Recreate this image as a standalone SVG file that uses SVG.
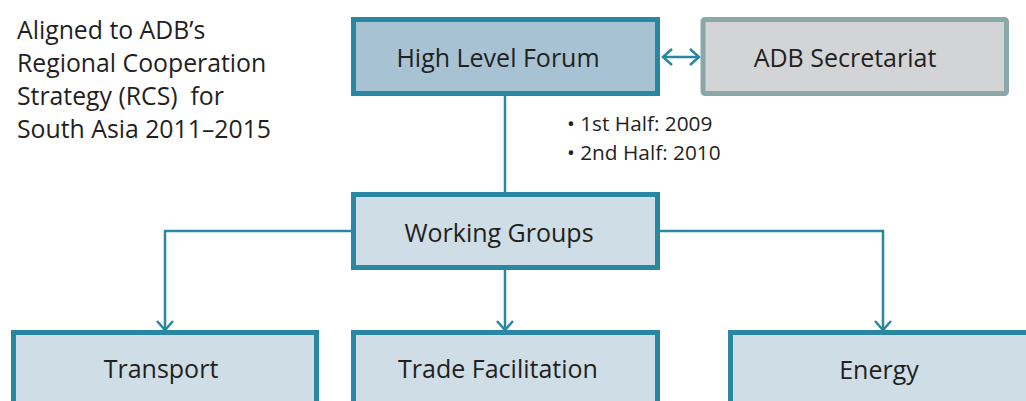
<svg xmlns="http://www.w3.org/2000/svg" width="1026" height="401" viewBox="0 0 1026 401">
<defs>
<style>
.box{stroke:#2a87a1;stroke-width:5;}
.dark{fill:#a7c3d3;}
.light{fill:#cedde6;}
.sec{fill:#d3d4d6;stroke:#8ba8a9;stroke-width:5;}
.lbl{font-family:"Open Sans","Noto Sans",sans-serif;font-size:25px;fill:#231f20;text-anchor:middle;}
.side{font-family:"Open Sans","Noto Sans",sans-serif;font-size:24.8px;fill:#231f20;white-space:pre;}
.note{font-family:"Open Sans","Noto Sans",sans-serif;font-size:20.8px;fill:#231f20;}
.conn{fill:none;stroke:#2a87a1;stroke-width:2.5;}
</style>
<marker id="arr" viewBox="0 0 20 20" refX="18" refY="10" markerWidth="20" markerHeight="20" markerUnits="userSpaceOnUse" orient="auto-start-reverse">
<path d="M9,2 L18,10 L9,18" fill="none" stroke="#2a87a1" stroke-width="2.5"/>
</marker>
</defs>
<rect width="1026" height="401" fill="#ffffff"/>
<g id="note-rcs">
<text class="side" x="17" y="39">Aligned to ADB’s</text>
<text class="side" x="17" y="72">Regional Cooperation</text>
<text class="side" x="17" y="105" xml:space="preserve">Strategy (RCS)  for</text>
<text class="side" x="17" y="138">South Asia 2011–2015</text>
</g>
<g id="connectors">
<line class="conn" x1="663" y1="57" x2="699" y2="57" marker-start="url(#arr)" marker-end="url(#arr)"/>
<line class="conn" x1="505" y1="96" x2="505" y2="192"/>
<polyline class="conn" points="351,231 165,231 165,330" marker-end="url(#arr)"/>
<line class="conn" x1="505" y1="270" x2="505" y2="330" marker-end="url(#arr)"/>
<polyline class="conn" points="660,231 883,231 883,330" marker-end="url(#arr)"/>
</g>
<g id="node-hlf">
<rect class="box dark" x="353.5" y="19.5" width="304" height="74"/>
<text class="lbl" x="498" y="67">High Level Forum</text>
</g>
<g id="node-secretariat">
<rect class="sec" x="703" y="19.5" width="303.5" height="74" rx="2"/>
<text class="lbl" x="845" y="67">ADB Secretariat</text>
</g>
<g id="note-schedule">
<text class="note" x="567" y="131">• 1st Half: 2009</text>
<text class="note" x="567" y="160">• 2nd Half: 2010</text>
</g>
<g id="node-wg">
<rect class="box light" x="353.5" y="194.5" width="304" height="73"/>
<text class="lbl" x="499" y="242">Working Groups</text>
</g>
<g id="node-transport">
<rect class="box light" x="13.5" y="332.5" width="303" height="100"/>
<text class="lbl" x="161" y="378">Transport</text>
</g>
<g id="node-trade">
<rect class="box light" x="353.5" y="332.5" width="304" height="100"/>
<text class="lbl" x="498" y="378">Trade Facilitation</text>
</g>
<g id="node-energy">
<rect class="box light" x="730.5" y="332.5" width="400" height="100"/>
<text class="lbl" x="879" y="379">Energy</text>
</g>
</svg>
